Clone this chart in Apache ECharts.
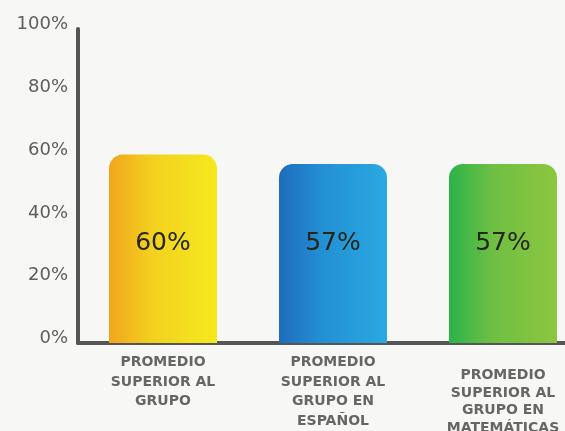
<!DOCTYPE html>
<html>
<head>
<meta charset="utf-8">
<script src="https://cdn.jsdelivr.net/npm/echarts@6/dist/echarts.min.js"></script>
<style>
  html, body { margin: 0; padding: 0; background: #f7f7f6; }
  #chart { width: 565px; height: 431px; }
</style>
</head>
<body>
<div id="chart"></div>
<script>
// datos del gráfico
const categories = [
  'PROMEDIO\nSUPERIOR AL\nGRUPO',
  'PROMEDIO\nSUPERIOR AL\nGRUPO EN\nESPAÑOL',
  'PROMEDIO\nSUPERIOR AL\nGRUPO EN\nMATEMÁTICAS'
]
const values = [60, 57, 57]
const yTicks = [0, 20, 40, 60, 80, 100]

// degradados de cada barra (izquierda -> derecha)
const gradients = [
  ['#f0a61c', '#f3d11f', '#f5e91d'],
  ['#1f6cbd', '#2390d4', '#2aa9e1'],
  ['#2bb34a', '#6ebf43', '#8dc63f']
]

const chart = echarts.init(document.getElementById('chart'))

const barData = values.map((v, i) => ({
  value: v,
  itemStyle: {
    color: new echarts.graphic.LinearGradient(0, 0, 1, 0, [
      { offset: 0, color: gradients[i][0] },
      { offset: 0.4, color: gradients[i][1] },
      { offset: 1, color: gradients[i][2] }
    ])
  }
}))

const axisData = categories.map((c, i) => {
  if (i === 2) {
    return { value: c, textStyle: { padding: [14, 0, 0, 0], lineHeight: 17.5 } }
  }
  return { value: c }
})

const option = {
  backgroundColor: '#f7f7f6',
  animation: false,
  grid: {
    left: 78,
    top: 29,
    width: 510,
    bottom: 88,
    outerBoundsMode: 'none',
    containLabel: false
  },
  xAxis: {
    type: 'category',
    data: axisData,
    axisLine: { lineStyle: { color: '#555', width: 4 } },
    axisTick: { show: false },
    axisLabel: {
      interval: 0,
      margin: 10,
      color: '#666',
      fontFamily: 'DejaVu Sans',
      fontWeight: 'bold',
      fontSize: 14,
      lineHeight: 19.5,
      align: 'center'
    }
  },
  yAxis: {
    type: 'value',
    min: yTicks[0],
    max: yTicks[yTicks.length - 1],
    interval: 20,
    splitLine: { show: false },
    axisTick: { show: false },
    axisLine: { show: true, lineStyle: { color: '#555', width: 4 } },
    axisLabel: {
      margin: 10,
      color: '#5e5e5e',
      fontFamily: 'DejaVu Sans',
      fontSize: 18,
      verticalAlign: 'bottom',
      lineHeight: 9,
      formatter: '{value}%'
    }
  },
  series: [
    {
      type: 'bar',
      data: barData,
      barWidth: 108,
      itemStyle: { borderRadius: [14, 14, 0, 0] },
      label: {
        show: true,
        position: 'insideBottom',
        distance: 87,
        color: '#26261a',
        fontFamily: 'DejaVu Sans',
        fontSize: 25,
        formatter: '{c}%'
      }
    }
  ]
}

chart.setOption(option)
</script>
</body>
</html>
